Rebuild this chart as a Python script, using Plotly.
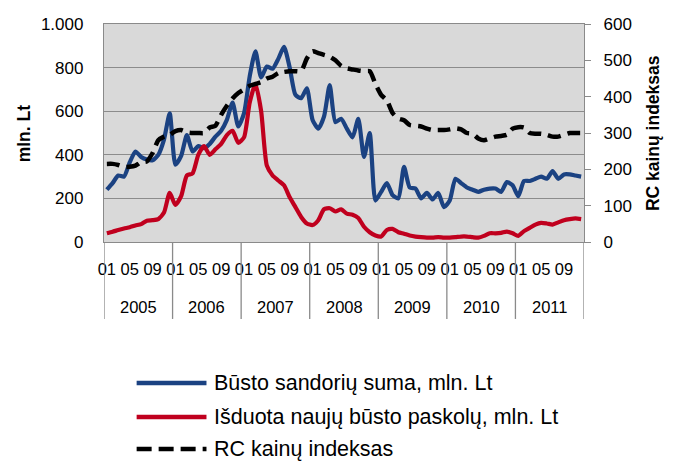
import plotly.graph_objects as go

# ---------------- data ----------------
years = ["2005", "2006", "2007", "2008", "2009", "2010", "2011"]
month_labels = ["01", "05", "09"]
month_label_offsets = [0, 4, 8]

# Būsto sandorių suma, mln. Lt (monthly, 2005-01 .. 2011-12)
sandoriu_suma = [
    240, 270, 305, 300, 365, 415, 390, 378, 375, 400, 470, 590,
    355, 395, 490, 415, 440, 430, 450, 483, 510, 560, 640, 530,
    590, 760, 875, 755, 805, 795, 840, 895, 800, 675, 660, 705,
    560, 520, 575, 720, 550, 565, 520, 480, 565, 390, 500, 190,
    230, 270, 215, 200, 345, 250, 245, 200, 225, 195, 225, 160,
    190, 290, 270, 250, 240, 230, 240, 245, 245, 230, 275, 260,
    210, 280, 280, 290, 300, 290, 325, 290, 310, 310, 305, 300,
]

# Išduota naujų būsto paskolų, mln. Lt
naujos_paskolos = [
    40, 47, 55, 62, 68, 76, 82, 98, 100, 105, 135, 225,
    170, 210, 305, 315, 400, 440, 400, 425, 450, 490, 510, 455,
    480, 640, 725, 600, 350, 305, 282, 260, 205, 160, 115, 85,
    78, 100, 150, 155, 140, 150, 130, 125, 110, 70, 45, 30,
    25, 55, 60, 45, 38, 30, 25, 22, 20, 20, 22, 20,
    20, 22, 25, 25, 22, 20, 28, 40, 40, 42, 48, 40,
    28, 50, 65, 80, 88, 85, 80, 90, 100, 105, 108, 105,
]

# RC kainų indeksas (right axis)
rc_indeksas = [
    215, 215, 212, 207, 207, 210, 220, 222, 245, 280, 290, 295,
    305, 308, 302, 300, 300, 300, 315, 320, 350, 375, 395, 410,
    420, 430, 435, 440, 450, 455, 465, 468, 470, 470, 470, 505,
    525, 520, 515, 510, 500, 485, 478, 475, 472, 470, 470, 435,
    405, 390, 355, 340, 335, 322, 320, 318, 312, 308, 308, 308,
    310, 313, 310, 300, 298, 285, 280, 285, 290, 292, 295, 312,
    316, 315, 300, 298, 298, 295, 290, 290, 295, 300, 300, 300,
]

series_names = [
    "Būsto sandorių suma, mln. Lt",
    "Išduota naujų būsto paskolų, mln. Lt",
    "RC kainų indeksas",
]
series_colors = ["#1b4282", "#c0001e", "#000000"]

# ---------------- figure ----------------
n = len(sandoriu_suma)
x = list(range(n))
FONT = "Liberation Sans, Arial, sans-serif"
GRID = "#8c8c8c"
AXIS = "#8a8a8a"

fig = go.Figure()
fig.add_trace(go.Scatter(x=x, y=sandoriu_suma, mode="lines", name=series_names[0],
                         line=dict(color=series_colors[0], width=4.2, shape="spline", smoothing=0.6),
                         showlegend=False))
fig.add_trace(go.Scatter(x=x, y=naujos_paskolos, mode="lines", name=series_names[1],
                         line=dict(color=series_colors[1], width=4.2, shape="spline", smoothing=0.6),
                         showlegend=False))
fig.add_trace(go.Scatter(x=x, y=rc_indeksas, mode="lines", name=series_names[2], yaxis="y2",
                         line=dict(color=series_colors[2], width=4.5, dash="13px,7px", shape="spline", smoothing=0.6),
                         showlegend=False))

tickvals, ticktext = [], []
for yi in range(len(years)):
    for off, lab in zip(month_label_offsets, month_labels):
        tickvals.append(12 * yi + off)
        ticktext.append(lab)

shapes = []
# year separators below the axis
for yi in range(len(years) + 1):
    xv = 12 * yi - 0.5
    shapes.append(dict(type="line", xref="x", yref="paper", x0=xv, x1=xv, y0=0, y1=-0.353,
                       line=dict(color=AXIS, width=1.3)))

annotations = []
for yi, yr in enumerate(years):
    annotations.append(dict(x=12 * yi + 5.5, y=-0.298, xref="x", yref="paper", text=yr,
                            showarrow=False, xanchor="center", yanchor="middle",
                            font=dict(family=FONT, size=16.5, color="#000")))

# axis titles
annotations.append(dict(x=-0.166, y=0.5, xref="paper", yref="paper", text="<b>mln. Lt</b>",
                        textangle=-90, showarrow=False, xanchor="center", yanchor="middle",
                        font=dict(family=FONT, size=17.5, color="#000")))
annotations.append(dict(x=1.144, y=0.5, xref="paper", yref="paper", text="<b>RC kainų indeksas</b>",
                        textangle=-90, showarrow=False, xanchor="center", yanchor="middle",
                        font=dict(family=FONT, size=17.5, color="#000")))

# custom legend (long line samples)
leg_y = [-0.647, -0.803, -0.950]
leg_dash = ["solid", "solid", "15px,7px"]
for name, col, ly, dsh in zip(series_names, series_colors, leg_y, leg_dash):
    shapes.append(dict(type="line", xref="paper", yref="paper", x0=0.068, x1=0.2135, y0=ly, y1=ly,
                       line=dict(color=col, width=4.5, dash=dsh)))
    annotations.append(dict(x=0.226, y=ly, xref="paper", yref="paper", text=name, showarrow=False,
                            xanchor="left", yanchor="middle",
                            font=dict(family=FONT, size=21.5, color="#000")))

fig.update_layout(
    width=676, height=463,
    margin=dict(l=104, r=92, t=24, b=221, pad=0),
    paper_bgcolor="white",
    plot_bgcolor="#d9d9d9",
    separators=",.",
    font=dict(family=FONT, size=17, color="#000"),
    showlegend=False,
    xaxis=dict(range=[-0.5, n - 0.5], tickvals=tickvals, ticktext=ticktext, showgrid=False,
               zeroline=False, showline=True, linecolor=AXIS, linewidth=1.3, mirror=True,
               ticks="", ticklabelstandoff=12, tickangle=0,
               tickfont=dict(family=FONT, size=16.5, color="#000")),
    yaxis=dict(range=[0, 1000], dtick=200, tickformat=",d", showgrid=True, gridcolor=GRID,
               gridwidth=1.3, zeroline=False, showline=True, linecolor=AXIS, linewidth=1.3,
               mirror=True, ticks="", ticklabelstandoff=16,
               tickfont=dict(family=FONT, size=17, color="#000")),
    yaxis2=dict(range=[0, 600], dtick=100, overlaying="y", side="right", showgrid=False,
                zeroline=False, showline=True, linecolor=AXIS, linewidth=1.3,
                ticks="outside", ticklen=6, tickcolor=AXIS, tickwidth=1.3, ticklabelstandoff=9,
                tickfont=dict(family=FONT, size=17, color="#000")),
    shapes=shapes,
    annotations=annotations,
)

fig.write_html("out.html", config={"displayModeBar": False},
               post_script="document.body.style.margin='0';document.body.style.overflow='hidden';")
